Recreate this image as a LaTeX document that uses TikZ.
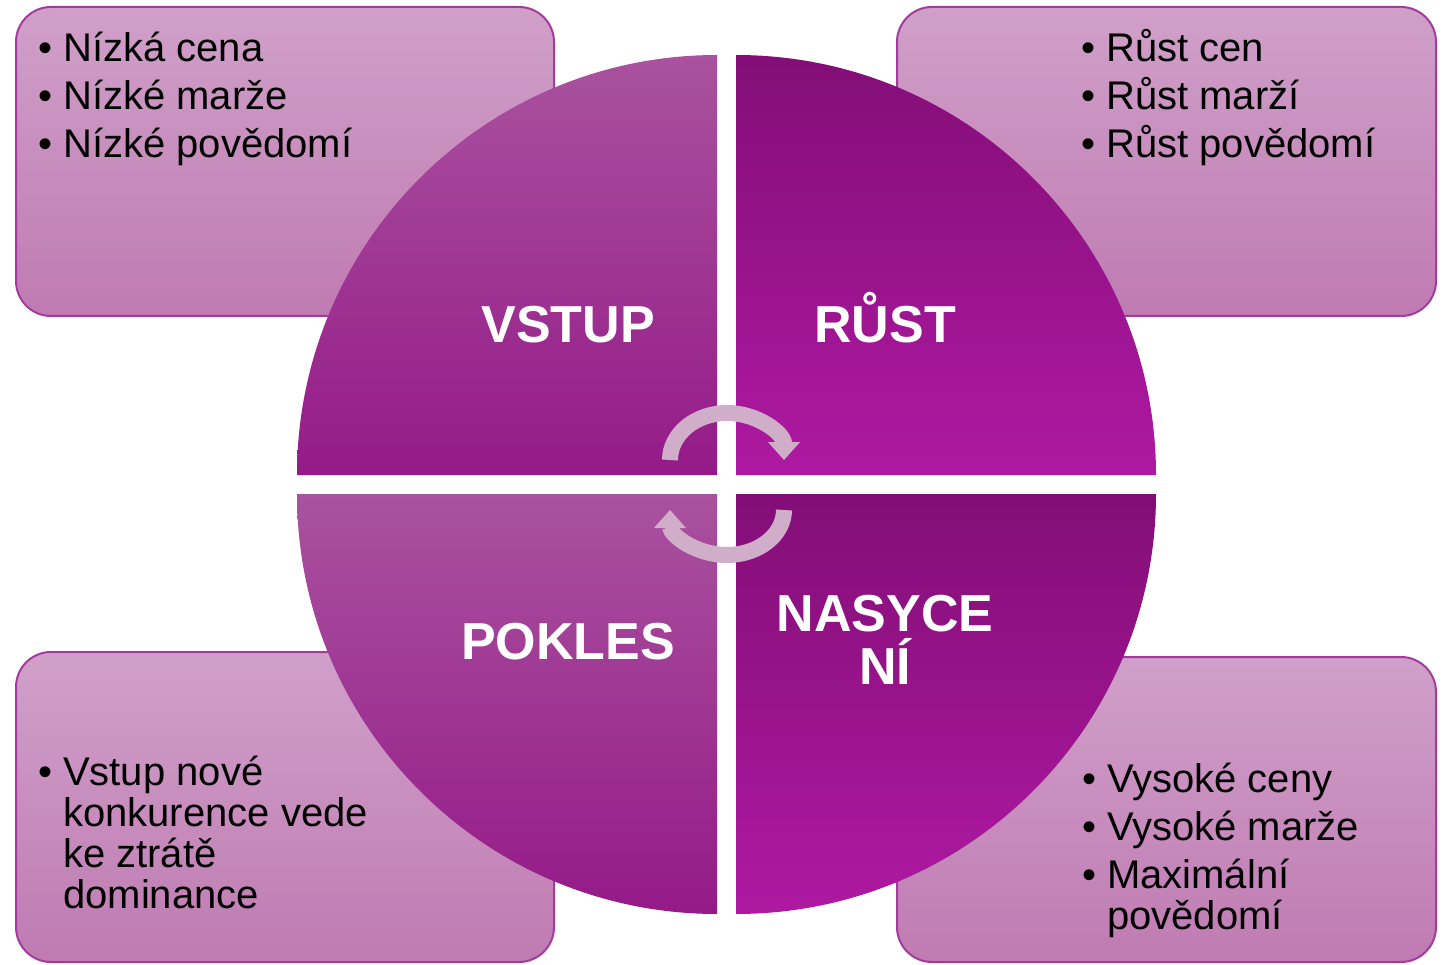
\documentclass[tikz,border=0pt]{standalone}
\usepackage{fontspec}
\setmainfont{Liberation Sans}
\usetikzlibrary{arrows.meta}
\definecolor{boxtop}{HTML}{D0A0C9}
\definecolor{boxbot}{HTML}{BF7BB2}
\definecolor{boxline}{HTML}{A43A9E}
\definecolor{lighttop}{HTML}{A9529F}
\definecolor{lightmid}{HTML}{A52C98}
\definecolor{lightbot}{HTML}{951A88}
\definecolor{darktop}{HTML}{830E77}
\definecolor{darkbot}{HTML}{AE19A1}
\definecolor{arrowcol}{HTML}{D0AECA}
\newcommand{\bul}{\leavevmode\hbox to 25pt{•\hss}}
\newcommand{\ind}{\leavevmode\hbox to 25pt{\hss}}
\tikzset{
  infobox/.style={draw=boxline, line width=2pt, rounded corners=35pt,
    top color=boxtop, bottom color=boxbot, inner sep=0pt},
  boxtext/.style={anchor=base west, inner sep=0pt, text=black},
  phase/.style={anchor=base, inner sep=0pt, text=white,
    font=\bfseries\fontsize{52}{53}\selectfont},
  lightq/.style={top color=lighttop, middle color=lightmid, bottom color=lightbot},
  darkq/.style={top color=darktop, bottom color=darkbot},
  cyc/.style={line width=16pt, draw=arrowcol, -{Triangle[width=31pt,length=18pt]}}
}
\begin{document}
\begin{tikzpicture}[x=1pt,y=-1pt]
\useasboundingbox (0,0) rectangle (1443,965);
% boxes
\node[infobox, minimum width=538pt, minimum height=309pt] (boxTL) at (285,161.5) {};
\node[infobox, minimum width=539pt, minimum height=309pt] (boxTR) at (1166.5,161.5) {};
\node[infobox, minimum width=538pt, minimum height=310pt] (boxBL) at (285,807) {};
\node[infobox, minimum width=539pt, minimum height=305pt] (boxBR) at (1166.5,809.5) {};
% quadrants
\shade[lightq]
  (717,475) -- (297,475) arc[start angle=180, end angle=270, radius=420] -- cycle;
\shade[darkq]
  (736,475) -- (736,55) arc[start angle=270, end angle=360, radius=420] -- cycle;
\shade[lightq]
  (717,494) -- (297,494) arc[start angle=180, end angle=90, radius=420] -- cycle;
\shade[darkq]
  (736,494) -- (1156,494) arc[start angle=0, end angle=90, radius=420] -- cycle;
% cycle arrows
\coordinate (c1) at (727,460);
\coordinate (c2) at (727,510);
\draw[cyc] ([xshift=-57pt]c1) arc[start angle=180, end angle=360, x radius=57, y radius=47];
\draw[cyc] ([xshift=57pt]c2) arc[start angle=0, end angle=180, x radius=57, y radius=45];
% phase labels
\node[phase] (vstup) at (568,343) {VSTUP};
\node[phase] (rust) at (885,343) {RŮST};
\node[phase] (pokles) at (568,659) {POKLES};
\node[phase] (nasyceni) at (885,631) {\parbox[t]{300pt}{\centering\lineskiplimit=-100pt NASYCE\\NÍ}};
% box texts
\node[boxtext] (tTL) at (38,62) {\parbox[t]{500pt}{\fontsize{40}{48}\selectfont\lineskiplimit=-100pt
  \bul Nízká cena\\\bul Nízké marže\\\bul Nízké povědomí}};
\node[boxtext] (tTR) at (1081,62) {\parbox[t]{500pt}{\fontsize{40}{48}\selectfont\lineskiplimit=-100pt
  \bul Růst cen\\\bul Růst marží\\\bul Růst povědomí}};
\node[boxtext] (tBL) at (38,785) {\parbox[t]{500pt}{\fontsize{40}{41}\selectfont\lineskiplimit=-100pt
  \bul Vstup nové\\\ind konkurence vede\\\ind ke ztrátě\\\ind dominance}};
\node[boxtext] (tBR) at (1082,792) {\parbox[t]{500pt}{\fontsize{40}{41}\selectfont\lineskiplimit=-100pt
  \bul Vysoké ceny\\[7pt]\bul Vysoké marže\\[7pt]\bul Maximální\\\ind povědomí}};
\end{tikzpicture}
\end{document}
